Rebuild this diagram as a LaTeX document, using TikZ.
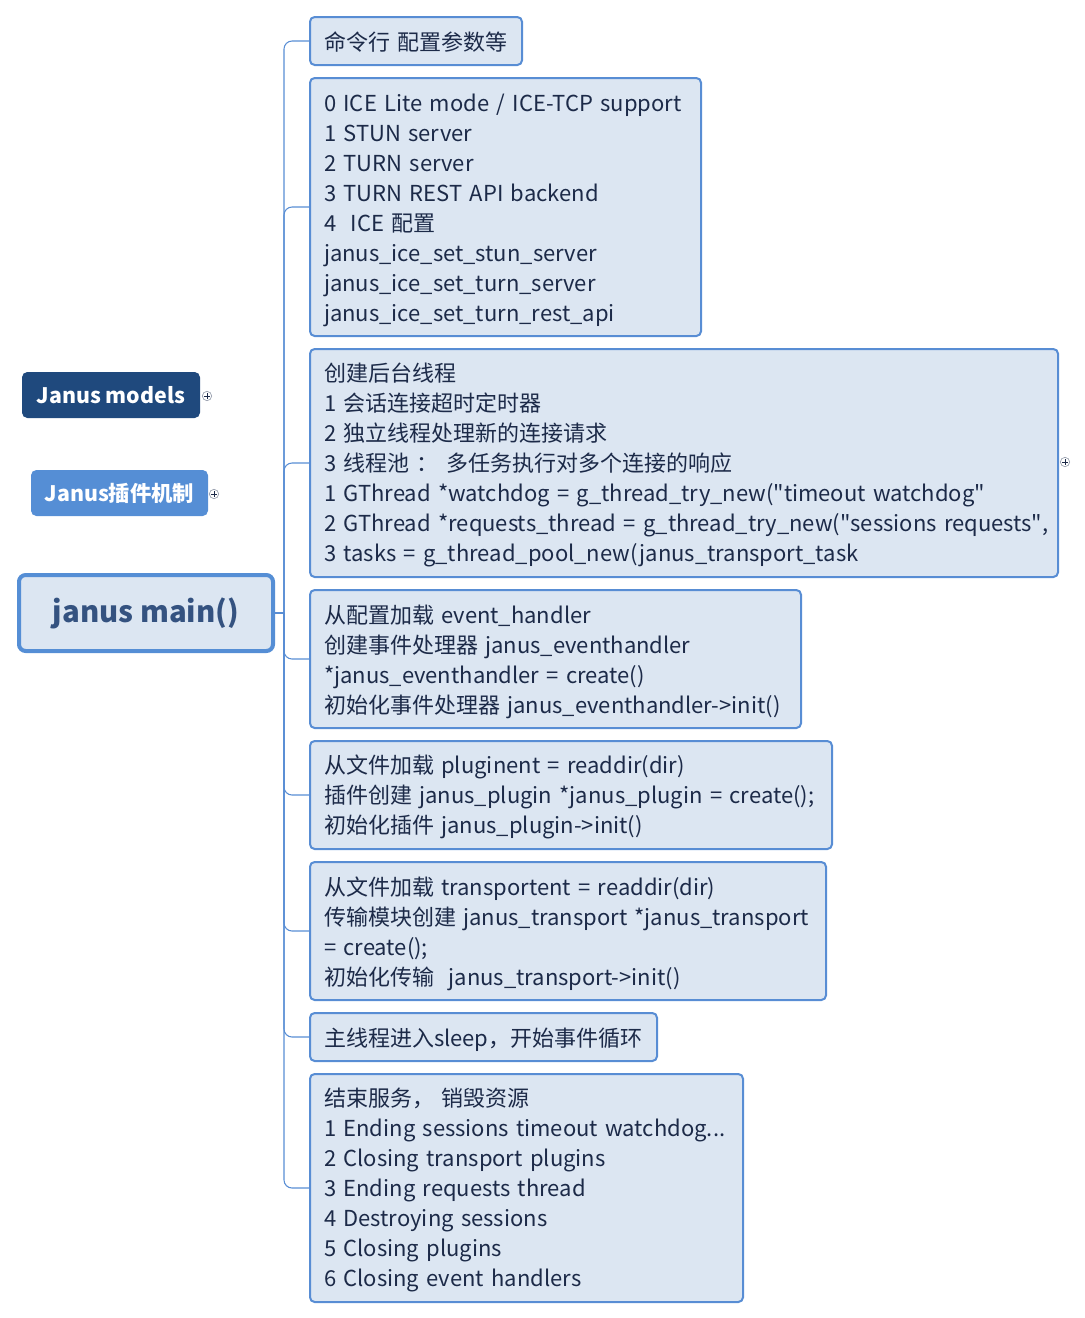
\documentclass[tikz,border=0pt]{standalone}
\usepackage{fontspec}
\setmainfont{Noto Sans CJK SC}
\newfontfamily\plainf{Noto Sans CJK SC}
\definecolor{boxfill}{RGB}{220,230,242}
\definecolor{boxline}{RGB}{88,141,212}
\definecolor{txt}{RGB}{28,42,72}
\definecolor{darkblue}{RGB}{31,73,125}
\definecolor{midblue}{RGB}{85,142,213}
\definecolor{maintxt}{RGB}{52,82,128}
\definecolor{plusgray}{RGB}{150,158,172}
\newcommand{\qt}{{\plainf\symbol{34}}}
\hyphenpenalty=10000
\exhyphenpenalty=10000
\tikzset{
  stepbox/.style={draw=boxline, fill=boxfill, line width=1.5pt, rounded corners=3.5pt,
    align=left, inner xsep=10.5pt, inner ysep=0pt, anchor=north west, text=txt,
    font=\fontsize{16.5}{22.5}\selectfont,
    execute at begin node={\rule{0pt}{17.5pt}},
    execute at end node={\rule[-4pt]{0pt}{0pt}}},
  conn/.style={draw=boxline, line width=0.8pt, rounded corners=6pt},
  topic/.style={rounded corners=4pt, text=white, inner sep=0pt,
    minimum width=133.5pt, minimum height=34.5pt, font=\fontsize{16}{20}\selectfont\bfseries},
  plusicon/.style={circle, draw=plusgray, fill=white, line width=0.5pt, minimum size=7pt, inner sep=0pt},
}
\newcommand{\plussign}[1]{\draw[line width=0.6pt, txt] ([xshift=-2pt]#1.center) -- ([xshift=2pt]#1.center) ([yshift=-2pt]#1.center) -- ([yshift=2pt]#1.center);}
\begin{document}
\begin{tikzpicture}[x=0.75pt,y=-0.75pt]
\useasboundingbox (0,0) rectangle (1085,1318);

% left topics
\node[topic, fill=darkblue] (models) at (111,395) {Janus models};
\node[topic, fill=midblue, minimum width=132.75pt] (plugin) at (119.5,493) {Janus插件机制};
\node[draw=midblue, fill=boxfill, line width=3pt, rounded corners=5pt,
      minimum width=190.5pt, minimum height=57pt, inner sep=0pt,
      text=maintxt, font=\fontsize{22}{26}\selectfont\bfseries] (main) at (146,613) {janus main()};

\node[plusicon] (p1) at (207,396) {};
\plussign{p1}
\node[plusicon] (p2) at (214,494) {};
\plussign{p2}

% boxes
\node[stepbox, text width=138pt, minimum height=36pt] (b1) at (309,16) {命令行 配置参数等};
\node[stepbox, text width=272.25pt, minimum height=193.5pt] (b2) at (309,77) {0 ICE Lite mode / ICE-TCP support\\1 STUN server\\2 TURN server\\3 TURN REST API backend\\4\ \ ICE 配置\\janus\_ice\_set\_stun\_server\\janus\_ice\_set\_turn\_server\\janus\_ice\_set\_turn\_rest\_api};
\node[stepbox, text width=540pt, minimum height=171pt] (b3) at (309,348) {创建后台线程\\1 会话连接超时定时器\\2 独立线程处理新的连接请求\\3 线程池 ： 多任务执行对多个连接的响应\\\mbox{1 GThread *watchdog = g\_thread\_try\_new(\qt timeout watchdog\qt}\\\mbox{2 GThread *requests\_thread = g\_thread\_try\_new(\qt sessions requests\qt,}\\3 tasks = g\_thread\_pool\_new(janus\_transport\_task};
\node[stepbox, text width=347.25pt, minimum height=103.5pt] (b4) at (309,589) {从配置加载 event\_handler\\创建事件处理器 janus\_eventhandler\\{}*janus\_eventhandler = create()\\初始化事件处理器 janus\_eventhandler->init()};
\node[stepbox, text width=370.5pt, minimum height=81pt] (b5) at (309,740) {从文件加载 pluginent = readdir(dir)\\插件创建 janus\_plugin *janus\_plugin = create();\\初始化插件 janus\_plugin->init()};
\node[stepbox, text width=366pt, minimum height=103.5pt] (b6) at (309,861) {从文件加载 transportent = readdir(dir)\\传输模块创建 janus\_transport *janus\_transport\\= create();\\初始化传输\ \ janus\_transport->init()};
\node[stepbox, text width=239.25pt, minimum height=36pt] (b7) at (309,1012) {主线程进入sleep，开始事件循环};
\node[stepbox, text width=303.75pt, minimum height=171pt] (b8) at (309,1073) {结束服务， 销毁资源\\1 Ending sessions timeout watchdog...\\2 Closing transport plugins\\3 Ending requests thread\\4 Destroying sessions\\5 Closing plugins\\6 Closing event handlers};

\node[plusicon] (p3) at (1065,462) {};
\plussign{p3}

% connectors
\coordinate (hub) at (284,613);
\draw[conn] (main.east) -- (hub);
\foreach \b in {b1,b2,b3,b4,b5,b6,b7,b8}{
  \draw[conn] (hub) |- (\b.west);
}
\end{tikzpicture}
\end{document}
